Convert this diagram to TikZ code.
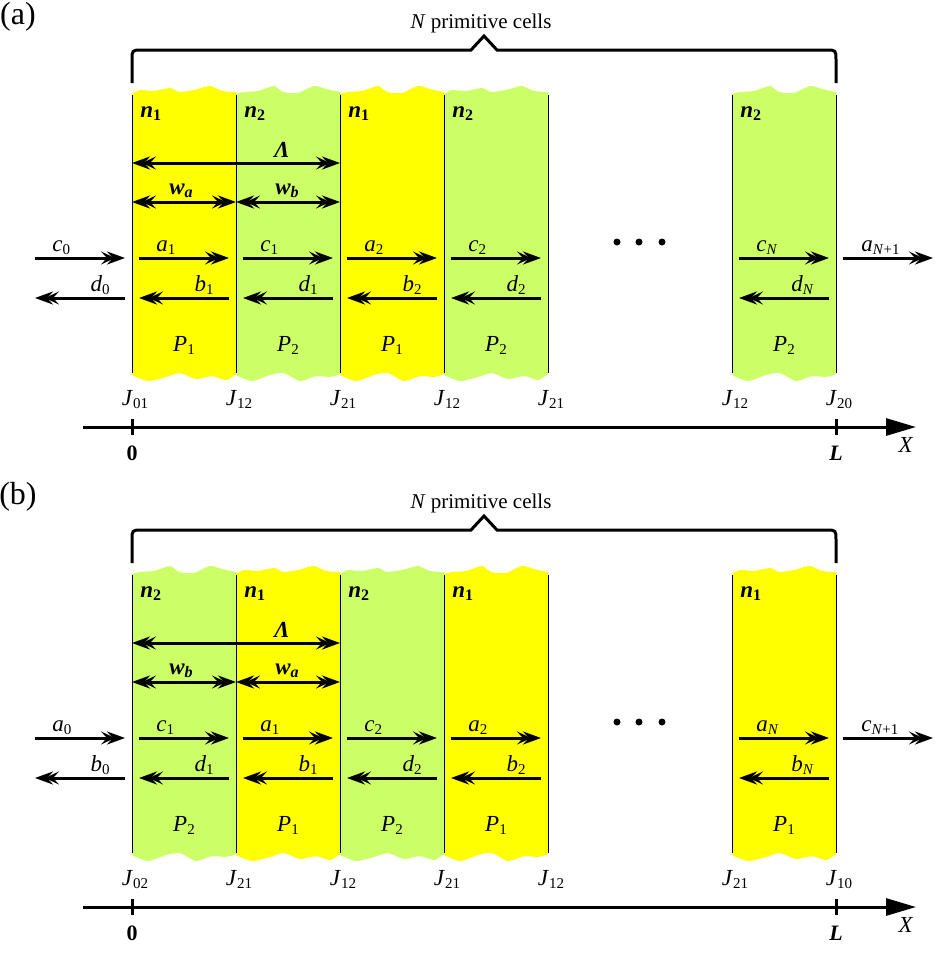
\documentclass[tikz,border=0pt]{standalone}
\usepackage{fontspec}
\setmainfont{Liberation Serif}
\usetikzlibrary{arrows.meta, positioning, calc}
\definecolor{layerA}{HTML}{FFFF00}
\definecolor{layerB}{HTML}{CCFF66}
\newcommand{\sym}[2]{\textit{#1}\raisebox{-1.8pt}{\fontsize{7.5}{8}\selectfont #2}}
\newcommand{\bsym}[2]{\textbf{\textit{#1}}\raisebox{-1.8pt}{\fontsize{8}{9}\selectfont\bfseries #2}}
\tikzset{dtip/.tip={Stealth[length=7pt,width=6.5pt,inset=3pt,sep=-4pt] Stealth[length=9pt,width=6.5pt,inset=3pt]}}

\begin{document}
\begin{tikzpicture}[x=0.5pt, y=-0.5pt,
    every node/.style={font=\fontsize{11.5}{13}\selectfont, inner sep=0pt},
    lab/.style={anchor=base},
    tag/.style={font=\fontsize{16}{18}\selectfont},
    note/.style={font=\fontsize{10.5}{12}\selectfont},
    num/.style={anchor=base, font=\fontsize{11}{12}\selectfont\bfseries},
    arr/.style={-{dtip}, line width=1.5pt},
    spanarr/.style={{dtip}-{dtip}, line width=1.5pt},
    brace/.style={line width=1.5pt},
    axis/.style={-{Triangle[length=15pt,width=8.5pt]}, line width=1.5pt},
    wall/.style={line width=0.5pt},
]
\useasboundingbox (0,0) rectangle (945,960);

% ---------------- panel (a) ----------------
\node[tag] (atag) at (18,17) {(a)};
\draw[brace] (132,83) -- (132,60) .. controls (132,50) .. (142,50) -- (471,50) -- (484,36)
    -- (497,50) -- (826,50) .. controls (836,50) .. (836,60) -- (836,83);
\node[note] (acells) at (481,23) {\textit{N} primitive cells};

% layers with torn edges
\foreach \a/\b/\c/\s in {132/236/layerA/0, 236/340/layerB/1, 340/444/layerA/1, 444/548/layerB/0, 732/836/layerB/1}{
    \fill[\c] plot[smooth, tension=0.4] coordinates {(\a,94) ({\a+8},{90+2*\s}) ({\a+22},91) ({\a+38},{88-2*\s}) ({\a+47},92) ({\a+62},{90+3*\s}) ({\a+78},86) ({\a+90},{91-2*\s}) (\b,92)}
        -- plot[smooth, tension=0.4] coordinates {(\b,374) ({\b-10},{380-3*\s}) ({\b-24},376) ({\b-40},{379+2*\s}) ({\b-56},373) ({\b-70},{377-2*\s}) ({\b-88},381) (\a,375)} -- cycle;
}
\foreach \x in {132,236,340,444,548,732,836}
    \draw[wall] (\x,95) -- (\x,373);

\foreach \x [count=\k from 0] in {132,236,340,444,548,732,836}{
    \coordinate (aL\k) at (\x,163);
    \coordinate (aW\k) at (\x,202);
    \coordinate (aF\k) at (\x,258);
    \coordinate (aB\k) at (\x,298);
}
\coordinate (aFin) at (35,258);
\coordinate (aBout) at (35,298);
\coordinate (aFout) at (933,258);

\foreach \x/\t [count=\k] in {132/1,236/2,340/1,444/2,732/2}
    \node[anchor=base west] (an\k) at ({\x+8},117) {\bsym{n}{\t}};

\draw[spanarr] (aL0) -- (aL2);
\draw[spanarr] (aW0) -- (aW1);
\draw[spanarr] (aW1) -- (aW2);
\node[lab] (alam) at (282,157) {\textbf{\textit{Λ}}};
\node[lab] (awa) at (181,194) {\bsym{w}{\textit{a}}};
\node[lab] (awb) at (287,194) {\bsym{w}{\textit{b}}};

\draw[arr] (aFin) -- ([xshift=-3.5pt]aF0);
\draw[arr] ([xshift=-3.5pt]aB0) -- (aBout);
\draw[arr] ([xshift=3.5pt]aF6) -- (aFout);
\node[anchor=base west] (ac0) at ([shift={(17,-7)}]aFin) {\sym{c}{0}};
\node[anchor=base east] (ad0) at ([shift={(-22,-7)}]aB0) {\sym{d}{0}};
\node[anchor=base west] (aaN) at ([shift={(25,-7)}]aF6) {\sym{a}{\textit{N}+1}};
\foreach \p/\q/\f/\g/\i in {0/1/a/b/1, 1/2/c/d/1, 2/3/a/b/2, 3/4/c/d/2, 5/6/c/d/{\textit{N}}}{
    \draw[arr] ([xshift=3.5pt]aF\p) -- ([xshift=-3.5pt]aF\q);
    \draw[arr] ([xshift=-3.5pt]aB\q) -- ([xshift=3.5pt]aB\p);
    \node[anchor=base west] (aFl\p) at ([shift={(24,-7)}]aF\p) {\sym{\f}{\i}};
    \node[anchor=base east] (aBl\q) at ([shift={(-22,-7)}]aB\q) {\sym{\g}{\i}};
}
\foreach \x in {617,639,662}
    \fill (\x,242) circle (3.5);

\foreach \x/\t [count=\k] in {184/1,288/2,392/1,496/2,784/2}
    \node[lab] (aP\k) at (\x,351) {\sym{P}{\t}};
\foreach \x/\t [count=\k] in {132/01,236/12,340/21,444/12,548/21,732/12,836/20}
    \node[lab] (aJ\k) at ({\x+3},405) {\sym{J}{\t}};

% x axis
\coordinate (aX0) at (83,427);
\coordinate (aX1) at (916,427);
\draw[axis] (aX0) -- (aX1);
\draw[brace] (132,419) -- (132,435);
\draw[brace] (836,419) -- (836,435);
\node[num] (azero) at (132,460) {0};
\node[num] (alen) at (836,460) {\textit{L}};
\node[lab] (axlab) at (906,452) {\textit{X}};

% ---------------- panel (b) ----------------
\begin{scope}[shift={(0,480)}]
\node[tag] (btag) at (18,17) {(b)};
\draw[brace] (132,83) -- (132,60) .. controls (132,50) .. (142,50) -- (471,50) -- (484,36)
    -- (497,50) -- (826,50) .. controls (836,50) .. (836,60) -- (836,83);
\node[note] (bcells) at (481,23) {\textit{N} primitive cells};

\foreach \a/\b/\c/\s in {132/236/layerB/1, 236/340/layerA/0, 340/444/layerB/0, 444/548/layerA/1, 732/836/layerA/0}{
    \fill[\c] plot[smooth, tension=0.4] coordinates {(\a,94) ({\a+8},{90+2*\s}) ({\a+22},91) ({\a+38},{88-2*\s}) ({\a+47},92) ({\a+62},{90+3*\s}) ({\a+78},86) ({\a+90},{91-2*\s}) (\b,92)}
        -- plot[smooth, tension=0.4] coordinates {(\b,374) ({\b-10},{380-3*\s}) ({\b-24},376) ({\b-40},{379+2*\s}) ({\b-56},373) ({\b-70},{377-2*\s}) ({\b-88},381) (\a,375)} -- cycle;
}
\foreach \x in {132,236,340,444,548,732,836}
    \draw[wall] (\x,95) -- (\x,373);

\foreach \x [count=\k from 0] in {132,236,340,444,548,732,836}{
    \coordinate (bL\k) at (\x,163);
    \coordinate (bW\k) at (\x,202);
    \coordinate (bF\k) at (\x,258);
    \coordinate (bB\k) at (\x,298);
}
\coordinate (bFin) at (35,258);
\coordinate (bBout) at (35,298);
\coordinate (bFout) at (933,258);

\foreach \x/\t [count=\k] in {132/2,236/1,340/2,444/1,732/1}
    \node[anchor=base west] (bn\k) at ({\x+8},117) {\bsym{n}{\t}};

\draw[spanarr] (bL0) -- (bL2);
\draw[spanarr] (bW0) -- (bW1);
\draw[spanarr] (bW1) -- (bW2);
\node[lab] (blam) at (282,157) {\textbf{\textit{Λ}}};
\node[lab] (bwb) at (181,194) {\bsym{w}{\textit{b}}};
\node[lab] (bwa) at (287,194) {\bsym{w}{\textit{a}}};

\draw[arr] (bFin) -- ([xshift=-3.5pt]bF0);
\draw[arr] ([xshift=-3.5pt]bB0) -- (bBout);
\draw[arr] ([xshift=3.5pt]bF6) -- (bFout);
\node[anchor=base west] (ba0) at ([shift={(17,-7)}]bFin) {\sym{a}{0}};
\node[anchor=base east] (bb0) at ([shift={(-22,-7)}]bB0) {\sym{b}{0}};
\node[anchor=base west] (bcN) at ([shift={(25,-7)}]bF6) {\sym{c}{\textit{N}+1}};
\foreach \p/\q/\f/\g/\i in {0/1/c/d/1, 1/2/a/b/1, 2/3/c/d/2, 3/4/a/b/2, 5/6/a/b/{\textit{N}}}{
    \draw[arr] ([xshift=3.5pt]bF\p) -- ([xshift=-3.5pt]bF\q);
    \draw[arr] ([xshift=-3.5pt]bB\q) -- ([xshift=3.5pt]bB\p);
    \node[anchor=base west] (bFl\p) at ([shift={(24,-7)}]bF\p) {\sym{\f}{\i}};
    \node[anchor=base east] (bBl\q) at ([shift={(-22,-7)}]bB\q) {\sym{\g}{\i}};
}
\foreach \x in {617,639,662}
    \fill (\x,242) circle (3.5);

\foreach \x/\t [count=\k] in {184/2,288/1,392/2,496/1,784/1}
    \node[lab] (bP\k) at (\x,351) {\sym{P}{\t}};
\foreach \x/\t [count=\k] in {132/02,236/21,340/12,444/21,548/12,732/21,836/10}
    \node[lab] (bJ\k) at ({\x+3},405) {\sym{J}{\t}};

\coordinate (bX0) at (83,427);
\coordinate (bX1) at (916,427);
\draw[axis] (bX0) -- (bX1);
\draw[brace] (132,419) -- (132,435);
\draw[brace] (836,419) -- (836,435);
\node[num] (bzero) at (132,460) {0};
\node[num] (blen) at (836,460) {\textit{L}};
\node[lab] (bxlab) at (906,452) {\textit{X}};
\end{scope}
\end{tikzpicture}
\end{document}
